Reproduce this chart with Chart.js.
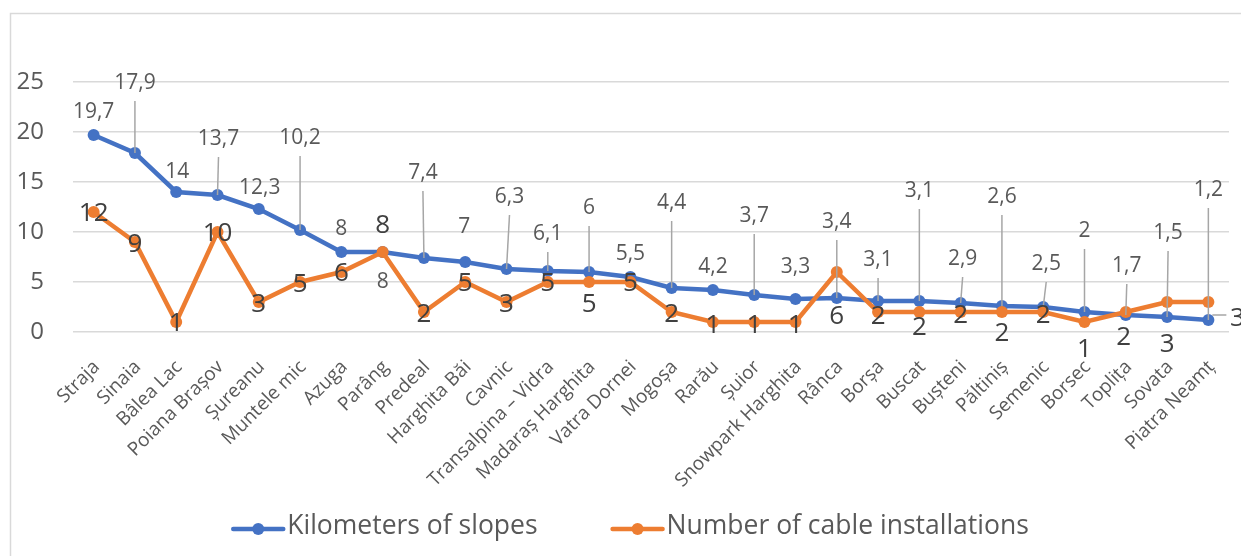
<!DOCTYPE html>
<html>
<head>
<meta charset="utf-8">
<script src="https://cdn.jsdelivr.net/npm/chart.js@4.4.1/dist/chart.umd.min.js"></script>
<style>
    html, body { margin: 0; background: #fff; }
    canvas { display: block; }
</style>
</head>
<body>
<canvas id="chart" width="1241" height="556"></canvas>
<script>
resorts = ["Straja", "Sinaia", "Bâlea Lac", "Poiana Brașov", "Șureanu", "Muntele mic", "Azuga", "Parâng",
    "Predeal", "Harghita Băi", "Cavnic", "Transalpina – Vidra", "Madaraș Harghita", "Vatra Dornei", "Mogoșa",
    "Rarău", "Șuior", "Snowpark Harghita", "Rânca", "Borșa", "Buscat", "Bușteni", "Păltiniș", "Semenic",
    "Borsec", "Toplița", "Sovata", "Piatra Neamț"];
kmSlopes = [19.7, 17.9, 14, 13.7, 12.3, 10.2, 8, 8, 7.4, 7, 6.3, 6.1, 6, 5.5, 4.4, 4.2, 3.7, 3.3, 3.4,
    3.1, 3.1, 2.9, 2.6, 2.5, 2, 1.7, 1.5, 1.2];
cableInstallations = [12, 9, 1, 10, 3, 5, 6, 8, 2, 5, 3, 5, 5, 5, 2, 1, 1, 1, 6, 2, 2, 2, 2, 2, 1, 2, 3, 3];
yTicks = [0, 5, 10, 15, 20, 25];

FONT = '"Open Sans", "Noto Sans", sans-serif';
BLUE = "#4472C4";
ORANGE = "#ED7D31";

// where Excel had dragged each data label, in px from its point
kmLabelShift = [[0, -23], [0, -70], [1, -20], [1, -56], [1, -21], [0, -92], [0, -23], [0, 30], [-1, -85],
    [-1, -35], [3, -72], [0, -37], [0, -64], [0, -23], [0, -85], [0, -23], [0, -79], [0, -32], [0, -76],
    [0, -41], [0, -110], [2, -44], [0, -109], [3, -43], [0, -81], [1, -49], [1, -84], [0, -130]];
cableLabelShift = [[0, 2], [0, 3], [0, 2], [0, 2], [0, 3], [0, 3], [0, 2], [0, -26], [0, 3], [0, 2],
    [0, 3], [0, 2], [0, 23], [0, 2], [0, 3], [0, 4], [0, 4], [0, 4], [0, 45], [0, 5], [0, 16], [0, 4],
    [0, 22], [0, 4], [0, 28], [-2, 26], [0, 43], [29, 17]];

function formatValue(v) {
    return String(v).replace(".", ",");
}

pointLabels = {
    id: "pointLabels",
    afterDatasetsDraw(chart) {
        var ctx = chart.ctx;
        chart.data.datasets.forEach((dataset, i) => {
            chart.getDatasetMeta(i).data.forEach((point, j) => {
                var [dx, dy] = dataset.labelShift[j];
                var x = point.x + dx, y = point.y + dy;
                ctx.save();
                ctx.strokeStyle = "#a6a6a6";
                ctx.lineWidth = 1.5;
                ctx.beginPath();
                if (dy < -36) {
                    ctx.moveTo(x, y + 18);
                    ctx.lineTo(point.x, point.y);
                }
                if (dx > 20) {
                    ctx.moveTo(point.x + 4, y - 4);
                    ctx.lineTo(x - 11, y - 4);
                }
                ctx.stroke();
                ctx.font = dataset.labelFont;
                ctx.fillStyle = dataset.labelColor;
                ctx.textAlign = "center";
                ctx.textBaseline = "middle";
                ctx.fillText(formatValue(dataset.data[j]), x, y);
                ctx.restore();
            });
        });
    }
};

frameAndLegend = {
    id: "frameAndLegend",
    afterDraw(chart) {
        var ctx = chart.ctx;
        ctx.save();
        ctx.strokeStyle = "#d9d9d9";
        ctx.lineWidth = 1.5;
        ctx.strokeRect(10.5, 13.5, 1400, 700);

        ctx.font = "26.5px " + FONT;
        ctx.textBaseline = "middle";
        var items = chart.data.datasets.map(d => ({ d: d, w: 56 + ctx.measureText(d.label).width }));
        var gap = 73;
        var total = items.reduce((s, it) => s + it.w, 0) + gap * (items.length - 1);
        var x = 630 - total / 2;
        items.forEach(it => {
            ctx.strokeStyle = it.d.borderColor;
            ctx.fillStyle = it.d.borderColor;
            ctx.lineWidth = 4.5;
            ctx.lineCap = "round";
            ctx.beginPath();
            ctx.moveTo(x + 2, 529);
            ctx.lineTo(x + 52, 529);
            ctx.stroke();
            ctx.beginPath();
            ctx.arc(x + 27, 529, 6, 0, Math.PI * 2);
            ctx.fill();
            ctx.fillStyle = "#595959";
            ctx.fillText(it.d.label, x + 56, 526);
            x += it.w + gap;
        });
        ctx.restore();
    }
};

chart = new Chart(document.getElementById("chart"), {
    type: "line",
    data: {
        labels: resorts,
        datasets: [{
            label: "Kilometers of slopes",
            data: kmSlopes,
            borderColor: BLUE,
            backgroundColor: BLUE,
            borderWidth: 4.5,
            pointRadius: 6,
            pointBorderWidth: 0,
            order: 1,
            labelShift: kmLabelShift,
            labelFont: "21px " + FONT,
            labelColor: "#595959"
        }, {
            label: "Number of cable installations",
            data: cableInstallations,
            borderColor: ORANGE,
            backgroundColor: ORANGE,
            borderWidth: 4.5,
            pointRadius: 6,
            pointBorderWidth: 0,
            order: 0,
            labelShift: cableLabelShift,
            labelFont: "26px " + FONT,
            labelColor: "#404040"
        }]
    },
    options: {
        responsive: false,
        animation: false,
        events: [],
        layout: { padding: { left: 10, right: 12, top: 82, bottom: 44 } },
        scales: {
            x: {
                offset: true,
                grid: { display: false, drawTicks: false, offset: true },
                border: { display: false },
                afterFit: s => {
                    s.height = 180;
                    s.paddingLeft = 0;
                    s.paddingRight = 0;
                },
                ticks: {
                    autoSkip: false,
                    minRotation: 45,
                    maxRotation: 45,
                    padding: 24,
                    labelOffset: 3,
                    color: "#595959",
                    font: { family: FONT, size: 19 }
                }
            },
            y: {
                min: 0,
                max: 25,
                afterBuildTicks: s => { s.ticks = yTicks.map(v => ({ value: v })); },
                afterFit: s => { s.width = 63; },
                grid: { color: "#d9d9d9", lineWidth: 1.5, drawTicks: false },
                border: { display: false },
                ticks: { padding: 29, color: "#595959", font: { family: FONT, size: 24 } }
            }
        },
        plugins: {
            legend: { display: false },
            tooltip: { enabled: false }
        }
    },
    plugins: [pointLabels, frameAndLegend]
});
</script>
</body>
</html>
